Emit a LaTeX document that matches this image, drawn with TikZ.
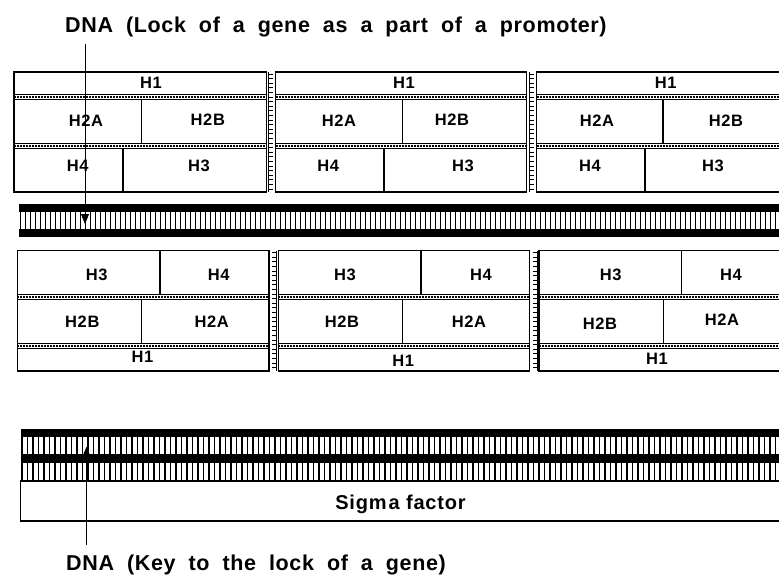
\documentclass[tikz,border=0pt]{standalone}
\usepackage{fontspec}
\setmainfont{Liberation Sans}
\usetikzlibrary{arrows.meta}
\tikzset{
  hlabel/.style={font=\bfseries\fontsize{16.5}{16.5}\selectfont\addfontfeature{LetterSpace=4}, inner sep=0pt, anchor=center},
  bigtext/.style={font=\bfseries\fontsize{21.5}{21.5}\selectfont\addfontfeature{LetterSpace=3}, inner sep=0pt, anchor=base west},
  sigtext/.style={font=\bfseries\fontsize{20}{20}\selectfont\addfontfeature{LetterSpace=4}, inner sep=0pt, anchor=base},
  boxline/.style={draw=black, line width=1.2pt},
  bandmid/.style={draw=black, line width=2.2pt, dash pattern=on 2pt off 1pt},
  tick/.style={draw=black, line width=1pt},
  pointer/.style={draw=black, line width=1pt, -{Triangle[length=10pt,width=8pt]}}
}
\newcommand\widesp{\spaceskip=13pt plus 1pt\relax}
\newcommand\histtop[4]{% x1 x2 divA divB  (rows H1 / H2A H2B / H4 H3)
  \draw[boxline] (#1,72) rectangle (#2,192);
  \draw[boxline] (#1,94.3) -- (#2,94.3) (#1,99.3) -- (#2,99.3)
                 (#1,143.3) -- (#2,143.3) (#1,148.3) -- (#2,148.3);
  \draw[bandmid] (#1,96.8) -- (#2,96.8) (#1,145.8) -- (#2,145.8);
  \draw[boxline] (#3,99.3) -- (#3,143.3) (#4,148.3) -- (#4,192);
}
\newcommand\histbot[4]{% x1 x2 divTop divMid (rows H3 H4 / H2B H2A / H1)
  \draw[boxline] (#1,250.7) rectangle (#2,371);
  \draw[boxline] (#1,294.3) -- (#2,294.3) (#1,299.3) -- (#2,299.3)
                 (#1,343.3) -- (#2,343.3) (#1,348.3) -- (#2,348.3);
  \draw[bandmid] (#1,296.8) -- (#2,296.8) (#1,345.8) -- (#2,345.8);
  \draw[boxline] (#3,250.7) -- (#3,294.3) (#4,299.3) -- (#4,343.3);
}
\newcommand\ladderR[3]{% x y1 y2, ticks to the right
  \draw[tick] (#1,#2) -- (#1,#3);
  \foreach \t in {0,...,25} \draw[tick] (#1,#2+2+\t*4.6) -- ++(4.5,0);
}
\newcommand\ladderL[3]{% x y1 y2, ticks to the left
  \draw[tick] (#1,#2) -- (#1,#3);
  \foreach \t in {0,...,25} \draw[tick] (#1,#2+2+\t*4.6) -- ++(-4.5,0);
}
\begin{document}
\begin{tikzpicture}[x=1pt,y=-1pt]
\useasboundingbox (0,0) rectangle (779,576);
\fill[white] (0,0) rectangle (779,576);
\begin{scope}
\clip (0,0) rectangle (779,576);

% ---------- upper nucleosome row ----------
\histtop{14}{266.5}{141.7}{123}
\histtop{275.7}{526.8}{402.7}{384}
\histtop{536.5}{800}{663}{645}
\ladderR{268.5}{72}{192}
\ladderR{529}{72}{192}

\node[hlabel] (t1h1)  at (151,82.5)  {H1};
\node[hlabel] (t1h2a) at (86,120.8)  {H2A};
\node[hlabel] (t1h2b) at (207.8,119.5) {H2B};
\node[hlabel] (t1h4)  at (77.7,166)  {H4};
\node[hlabel] (t1h3)  at (199,166)   {H3};

\node[hlabel] (t2h1)  at (404,82.5)  {H1};
\node[hlabel] (t2h2a) at (339,120.8) {H2A};
\node[hlabel] (t2h2b) at (452,119.5) {H2B};
\node[hlabel] (t2h4)  at (328.3,166) {H4};
\node[hlabel] (t2h3)  at (463,166)   {H3};

\node[hlabel] (t3h1)  at (665.8,83)  {H1};
\node[hlabel] (t3h2a) at (597,121)   {H2A};
\node[hlabel] (t3h2b) at (726,121)   {H2B};
\node[hlabel] (t3h4)  at (590,166)   {H4};
\node[hlabel] (t3h3)  at (713,166)   {H3};

% ---------- DNA (lock) ----------
\fill (19,204) rectangle (800,211.7);
\fill (19,229.3) rectangle (800,237.3);
\foreach \i in {0,...,152} \fill (19.5+\i*5,211.7) rectangle ++(1.7,17.6);

% ---------- lower nucleosome row ----------
\histbot{17.3}{269}{160}{141.7}
\histbot{278.3}{529.5}{421}{402.7}
\histbot{539}{800}{681.7}{663.3}
\ladderL{276.7}{250.7}{371}
\ladderL{537.3}{250.7}{371}

\node[hlabel] (b1h3)  at (96.7,275)  {H3};
\node[hlabel] (b1h4)  at (218.7,275) {H4};
\node[hlabel] (b1h2b) at (82.3,322)  {H2B};
\node[hlabel] (b1h2a) at (211.7,322) {H2A};
\node[hlabel] (b1h1)  at (142.5,357) {H1};

\node[hlabel] (b2h3)  at (345,275)   {H3};
\node[hlabel] (b2h4)  at (481,275)   {H4};
\node[hlabel] (b2h2b) at (342,321.5) {H2B};
\node[hlabel] (b2h2a) at (469,321.5) {H2A};
\node[hlabel] (b2h1)  at (403.3,360.5) {H1};

\node[hlabel] (b3h3)  at (610.7,275) {H3};
\node[hlabel] (b3h4)  at (731,275)   {H4};
\node[hlabel] (b3h2b) at (600,323.5) {H2B};
\node[hlabel] (b3h2a) at (722,320)   {H2A};
\node[hlabel] (b3h1)  at (657,358.5) {H1};

% ---------- DNA (key) + sigma factor ----------
\fill (20.7,429) rectangle (800,437.3);
\fill (20.7,454.3) rectangle (800,462.7);
\foreach \i in {0,...,140} {
  \fill (21+\i*5.5,437.3) rectangle ++(1.7,17);
  \fill (21+\i*5.5,462.7) rectangle ++(1.7,18.3);
}
\draw[boxline] (20.7,481) rectangle (800,521);
\node[sigtext] (sigma) at (400.5,509) {Sigm\kern2pt a factor};
\end{scope}

% ---------- texts and pointers ----------
\node[bigtext] (locktext) at (65,32.6) {\widesp DNA (Lock of a gene as a part of a promoter)};
\node[bigtext] (keytext) at (66,570) {\widesp DNA (Key to the lock of a gene)};
\coordinate (lockstart) at (85,44);
\coordinate (locktip) at (85,224);
\coordinate (keystart) at (86.5,545);
\coordinate (keytip) at (86.5,446.7);
\draw[pointer] (lockstart) -- (locktip);
\draw[pointer] (keystart) -- (keytip);
\end{tikzpicture}
\end{document}
